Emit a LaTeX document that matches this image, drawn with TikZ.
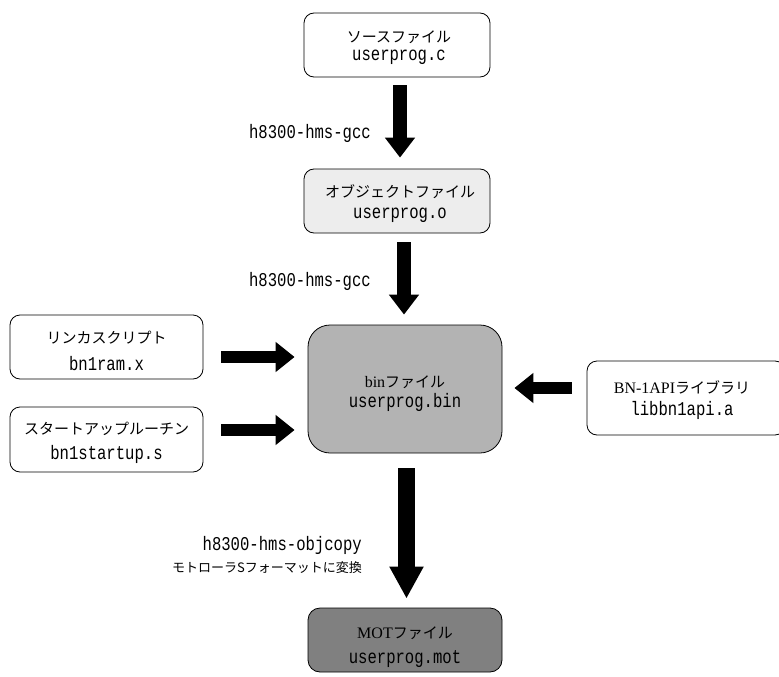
\documentclass[tikz,border=0pt]{standalone}
\usepackage{fontspec}
\setmainfont{Liberation Serif}
\newfontfamily\jpfont{Noto Sans CJK JP}
\newfontfamily\gothmono[FakeStretch=0.8]{Liberation Mono}
\usetikzlibrary{arrows.meta,calc}

\newcommand{\jp}{\fontsize{15}{18}\selectfont\jpfont}
\newcommand{\jpsmall}{\fontsize{13}{16}\selectfont\jpfont}
\newcommand{\code}{\fontsize{19.5}{20}\selectfont\gothmono}
\newcommand{\latin}{\fontsize{16}{18}\selectfont\rmfamily}

\definecolor{objfill}{HTML}{EDEDED}
\definecolor{binfill}{HTML}{B3B3B3}
\definecolor{motfill}{HTML}{808080}

\tikzset{
  filebox/.style={draw=black, line width=0.8pt, rounded corners=10pt, inner sep=0pt},
  titletext/.style={anchor=center, inner sep=0pt, font=\jp},
  nametext/.style={anchor=base, inner sep=0pt, font=\code},
  vflow/.style={line width=14.5pt, -{Triangle[width=29pt,length=20pt]}},
  bigflow/.style={line width=17pt, -{Triangle[width=32pt,length=32pt]}},
  hflow/.style={line width=12pt, -{Triangle[width=29pt,length=19pt]}},
  toollabel/.style={anchor=base east, inner sep=0pt},
}

\begin{document}
\begin{tikzpicture}[x=1pt, y=-1pt]
  \useasboundingbox (0,0) rectangle (779,677);
  \clip (0,0) rectangle (779,677);

  % files of the build chain
  \node[filebox, fill=white, minimum width=186pt, minimum height=64pt] (src) at (397,45) {};
  \node[filebox, fill=objfill, minimum width=186pt, minimum height=64pt] (obj) at (397,201) {};
  \node[filebox, fill=binfill, rounded corners=22pt, minimum width=194pt, minimum height=128pt] (bin) at (405,389) {};
  \node[filebox, fill=motfill, rounded corners=12pt, minimum width=194pt, minimum height=64pt] (mot) at (405,640) {};

  % linker inputs
  \node[filebox, fill=white, minimum width=193pt, minimum height=64pt] (link) at (106.5,347) {};
  \node[filebox, fill=white, minimum width=193pt, minimum height=65pt] (start) at (106.5,439.5) {};
  \node[filebox, fill=white, minimum width=198pt, minimum height=74pt] (lib) at (686,398) {};

  % box captions: kind of file, then file name
  \node[titletext] (srcT) at ($(src.center)+(2,-8)$) {ソースファイル};
  \node[nametext] (srcN) at ($(src.center)+(2,16)$) {userprog.c};
  \node[titletext] (objT) at ($(obj.center)+(3,-9)$) {オブジェクトファイル};
  \node[nametext] (objN) at ($(obj.center)+(3,17)$) {userprog.o};
  \node[titletext] (binT) at ($(bin.center)+(0,-7)$) {{\latin bin}ファイル};
  \node[nametext] (binN) at ($(bin.center)+(0,18)$) {userprog.bin};
  \node[titletext] (motT) at ($(mot.center)+(0,-7)$) {{\latin MOT}ファイル};
  \node[nametext] (motN) at ($(mot.center)+(0,23)$) {userprog.mot};
  \node[titletext] (linkT) at ($(link.center)+(0,-9)$) {リンカスクリプト};
  \node[nametext] (linkN) at ($(link.center)+(0,23)$) {bn1ram.x};
  \node[titletext] (startT) at ($(start.center)+(0,-11)$) {スタートアップルーチン};
  \node[nametext] (startN) at ($(start.center)+(0,20)$) {bn1startup.s};
  \node[titletext] (libT) at ($(lib.center)+(-4,-11)$) {{\latin BN-1API}ライブラリ};
  \node[nametext] (libN) at ($(lib.center)+(-4,17)$) {libbn1api.a};

  % flow arrows
  \draw[vflow] ($(src.south)+(3,8)$) -- ($(obj.north)+(3,-11)$);
  \draw[vflow] ($(obj.south -| bin.north)+(-1,9)$) -- ($(bin.north)+(-1,-10)$);
  \draw[bigflow] ($(bin.south)+(1.5,15)$) -- ($(mot.north)+(1.5,-9)$);
  \draw[hflow] ($(link.east)+(18,10)$) -- ($(bin.west |- link.east)+(-13,10)$);
  \draw[hflow] ($(start.east)+(18,-9.5)$) -- ($(bin.west |- start.east)+(-13,-9.5)$);
  \draw[hflow] ($(lib.west)+(-15,-10)$) -- ($(bin.east |- lib.west)+(12,-10)$);

  % tool labels
  \node[toollabel, font=\code] (gcc1) at (371,138) {h8300-hms-gcc};
  \node[toollabel, font=\code] (gcc2) at (371,286) {h8300-hms-gcc};
  \node[toollabel, font=\code] (objcopy) at (362,550) {h8300-hms-objcopy};
  \node[anchor=east, inner sep=0pt, font=\jpsmall] (conv) at (362,568) {モトローラSフォーマットに変換};
\end{tikzpicture}
\end{document}
